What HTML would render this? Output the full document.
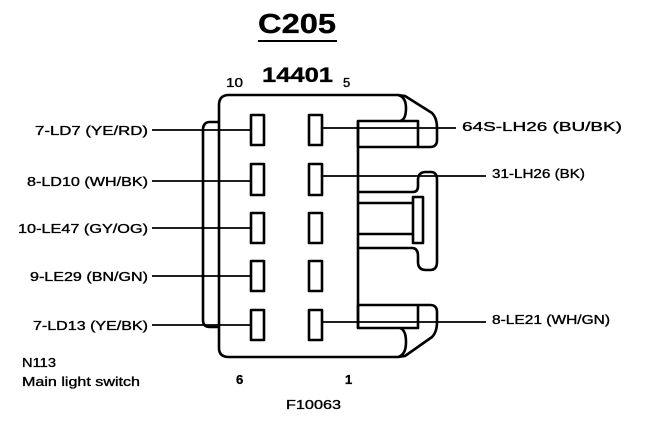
<!DOCTYPE html>
<html><head><meta charset="utf-8"><style>
html,body{margin:0;padding:0;background:#fff;width:672px;height:422px;overflow:hidden}
svg{display:block}
text{font-family:"Liberation Sans",Arial,sans-serif;fill:#000;stroke:#000;stroke-width:0.35}
</style></head><body>
<svg width="672" height="422" viewBox="0 0 672 422" xmlns="http://www.w3.org/2000/svg">
<g font-weight="bold">
<text x="258" y="33" font-size="28" textLength="78" lengthAdjust="spacingAndGlyphs">C205</text>
<text x="262" y="82" font-size="21" textLength="71" lengthAdjust="spacingAndGlyphs">14401</text>
<text x="236" y="384" font-size="13">6</text>
<text x="345" y="384" font-size="13">1</text>
</g>
<line x1="258" y1="41" x2="337" y2="41" stroke="#000" stroke-width="2"/>
<g font-size="13">
<text x="226" y="87" textLength="17" lengthAdjust="spacingAndGlyphs">10</text>
<text x="343" y="87">5</text>
<text x="286" y="409" textLength="55" lengthAdjust="spacingAndGlyphs">F10063</text>
<text x="22" y="367" textLength="34" lengthAdjust="spacingAndGlyphs">N113</text>
<text x="22" y="386" textLength="118" lengthAdjust="spacingAndGlyphs">Main light switch</text>
<text x="35" y="135" textLength="113" lengthAdjust="spacingAndGlyphs">7-LD7 (YE/RD)</text>
<text x="27" y="186" textLength="121" lengthAdjust="spacingAndGlyphs">8-LD10 (WH/BK)</text>
<text x="18" y="233" textLength="130" lengthAdjust="spacingAndGlyphs">10-LE47 (GY/OG)</text>
<text x="30" y="281" textLength="118" lengthAdjust="spacingAndGlyphs">9-LE29 (BN/GN)</text>
<text x="33" y="330" textLength="115" lengthAdjust="spacingAndGlyphs">7-LD13 (YE/BK)</text>
<text x="462" y="131" textLength="160" lengthAdjust="spacingAndGlyphs">64S-LH26 (BU/BK)</text>
<text x="492" y="178" textLength="93" lengthAdjust="spacingAndGlyphs">31-LH26 (BK)</text>
<text x="492" y="324" textLength="118" lengthAdjust="spacingAndGlyphs">8-LE21 (WH/GN)</text>
</g>
<g fill="none" stroke="#000" stroke-width="2.6" stroke-linejoin="round">
<path d="M219,105 Q219,95 229,95 L398,95 Q406,97 406,108 Q406,120 400,121"/>
<path d="M219,105 L219,348 Q219,357 229,357 L398,357 Q406,355 406,342 Q406,330 400,328"/>
<path d="M398,95 L405,96 L432,113 Q437,118 437,128 L437,140 Q437,147 430,147 L418,147"/>
<path d="M398,357 L405,356 L432,337 Q437,332 437,322 L437,312 Q437,305 430,305 L418,305"/>
<path d="M219,122 L210,122 Q203,122 203,130 L203,320 Q203,327 210,327 L219,327"/>
<rect x="358" y="121" width="60" height="26"/>
<rect x="358" y="305" width="60" height="23"/>
<line x1="358" y1="121" x2="358" y2="328"/>
<path d="M358,192 L413,192 Q418,192 418,186 L418,180 Q418,172 426,172 L431,172 Q437,172 437,180 L437,262 Q437,270 430,270 L426,270 Q418,270 418,262 L418,256 Q418,248 412,248 L358,248"/>
<rect x="413" y="197" width="10" height="46"/>
<line x1="358" y1="203" x2="413" y2="203"/>
<line x1="358" y1="234" x2="413" y2="234"/>
<rect x="251" y="115" width="13" height="30"/><rect x="309" y="115" width="13" height="30"/>
<rect x="251" y="164" width="13" height="31"/><rect x="309" y="164" width="13" height="31"/>
<rect x="251" y="213" width="13" height="30"/><rect x="309" y="213" width="13" height="30"/>
<rect x="251" y="261" width="13" height="30"/><rect x="309" y="261" width="13" height="30"/>
<rect x="251" y="310" width="13" height="30"/><rect x="309" y="310" width="13" height="30"/>
</g>
<g stroke="#000" stroke-width="1.8">
<line x1="152" y1="130" x2="251" y2="130"/>
<line x1="152" y1="181" x2="251" y2="181"/>
<line x1="152" y1="228" x2="251" y2="228"/>
<line x1="152" y1="276" x2="251" y2="276"/>
<line x1="152" y1="325" x2="251" y2="325"/>
<line x1="322" y1="128" x2="456" y2="128"/>
<line x1="322" y1="176" x2="486" y2="176"/>
<line x1="322" y1="322" x2="486" y2="322"/>
</g>
</svg>
</body></html>
